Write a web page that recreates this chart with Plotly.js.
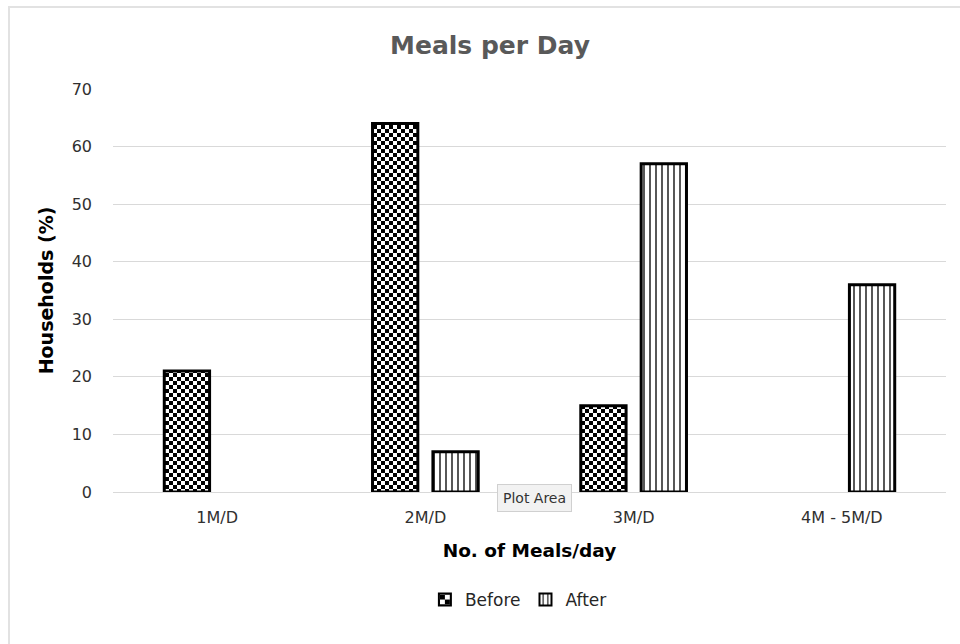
<!DOCTYPE html>
<html>
<head>
<meta charset="utf-8">
<script src="https://cdn.plot.ly/plotly-3.0.1.min.js"></script>
<style>
  html, body { margin: 0; padding: 0; background: #ffffff; width: 960px; height: 644px; overflow: hidden; }
  #frame { position: absolute; left: 8px; top: 6px; width: 1000px; height: 700px; border: 2px solid #e2e2e2; box-sizing: border-box; }
  #chart { position: absolute; left: 0; top: 0; width: 960px; height: 644px; }
</style>
</head>
<body>
<div id="frame"></div>
<div id="chart"></div>
<script>
const categories = ["1M/D", "2M/D", "3M/D", "4M - 5M/D"];
const seriesNames = ["Before", "After"];
const beforeValues = [21, 64, 15, 0];
const afterValues = [0, 7, 57, 36];
const yTicks = [0, 10, 20, 30, 40, 50, 60, 70];

const FONT = "DejaVu Sans, Liberation Sans, Arial, sans-serif";
const tickFont = { family: FONT, size: 16, color: "#303030" };
const borderFor = function (vals) { return vals.map(function (v) { return v > 0 ? 3 : 0; }); };

const traces = [
  {
    type: "bar",
    name: seriesNames[0],
    x: categories,
    y: beforeValues,
    marker: { color: "#ffffff", line: { color: "#000000", width: borderFor(beforeValues) } },
    hoverinfo: "skip"
  },
  {
    type: "bar",
    name: seriesNames[1],
    x: categories,
    y: afterValues,
    marker: {
      color: "#ffffff",
      line: { color: "#000000", width: borderFor(afterValues) },
      pattern: { shape: "|", size: 6, solidity: 0.22, fgcolor: "#000000", bgcolor: "#ffffff", fillmode: "replace" }
    },
    hoverinfo: "skip"
  }
];

const layout = {
  width: 960,
  height: 644,
  paper_bgcolor: "rgba(0,0,0,0)",
  plot_bgcolor: "rgba(0,0,0,0)",
  margin: { l: 113, r: 14, t: 89, b: 152 },
  barmode: "group",
  bargap: 0.42,
  bargroupgap: 0.25,
  title: {
    text: "<b>Meals per Day</b>",
    font: { family: FONT, size: 25, color: "#595959" },
    x: 490 / 960, xanchor: "center", xref: "container",
    y: 1 - 45 / 644, yanchor: "middle", yref: "container"
  },
  xaxis: {
    type: "category",
    tickfont: tickFont,
    showgrid: false,
    showline: false,
    zeroline: false,
    ticks: "",
    ticklabelstandoff: 14,
    title: { text: "<b>No. of Meals/day</b>", font: { family: FONT, size: 18.5, color: "#000000" }, standoff: 18 }
  },
  yaxis: {
    range: [0, 70],
    tickvals: yTicks,
    tickfont: tickFont,
    showgrid: true,
    gridcolor: "#d9d9d9",
    gridwidth: 1,
    zeroline: true,
    zerolinecolor: "#d9d9d9",
    zerolinewidth: 1,
    showline: false,
    ticks: "",
    ticklabelstandoff: 20,
    title: { text: "<b>Households (%)</b>", font: { family: FONT, size: 19, color: "#000000" }, standoff: 12 }
  },
  showlegend: true,
  legend: {
    orientation: "h",
    x: 0.54, xanchor: "center", xref: "container",
    y: 1 - 600 / 644, yanchor: "middle", yref: "container",
    font: { family: FONT, size: 17, color: "#262626" },
    itemwidth: 30,
    traceorder: "normal"
  },
  annotations: [
    {
      text: "Plot Area",
      xref: "paper", yref: "paper",
      x: (534 - 113) / 833, y: -(498 - 492) / 403,
      xanchor: "center", yanchor: "middle",
      showarrow: false,
      font: { family: FONT, size: 14, color: "#333333" },
      bgcolor: "#f2f2f2",
      bordercolor: "#d0d0d0",
      borderwidth: 1,
      borderpad: 5
    }
  ]
};

Plotly.newPlot("chart", traces, layout, { staticPlot: true, displayModeBar: false }).then(function (gd) {
  const svg = gd.querySelector("svg.main-svg");
  const ns = "http://www.w3.org/2000/svg";
  let defs = svg.querySelector("defs");
  if (!defs) { defs = document.createElementNS(ns, "defs"); svg.insertBefore(defs, svg.firstChild); }
  function makeChecker(id, cell) {
    const p = document.createElementNS(ns, "pattern");
    p.setAttribute("id", id);
    p.setAttribute("patternUnits", "userSpaceOnUse");
    p.setAttribute("width", 2 * cell);
    p.setAttribute("height", 2 * cell);
    const bg = document.createElementNS(ns, "rect");
    bg.setAttribute("width", 2 * cell); bg.setAttribute("height", 2 * cell); bg.setAttribute("fill", "#ffffff");
    p.appendChild(bg);
    [[0, 0], [cell, cell]].forEach(function (o) {
      const r = document.createElementNS(ns, "rect");
      r.setAttribute("x", o[0]); r.setAttribute("y", o[1]);
      r.setAttribute("width", cell); r.setAttribute("height", cell);
      r.setAttribute("fill", "#000000");
      p.appendChild(r);
    });
    defs.appendChild(p);
  }
  makeChecker("checker4", 4);
  makeChecker("checker5", 5);
  const barTraces = gd.querySelectorAll(".barlayer .trace.bars");
  if (barTraces.length) {
    barTraces[0].querySelectorAll(".point path").forEach(function (p) { p.style.fill = "url(#checker4)"; });
  }
  const legendTraces = gd.querySelectorAll(".legend .traces");
  legendTraces.forEach(function (t, i) {
    t.querySelectorAll(".legendpoints path").forEach(function (p) {
      if (i === 0) p.style.fill = "url(#checker5)";
      p.style.stroke = "#000000";
      p.style.strokeWidth = "2px";
    });
  });
});
</script>
</body>
</html>
